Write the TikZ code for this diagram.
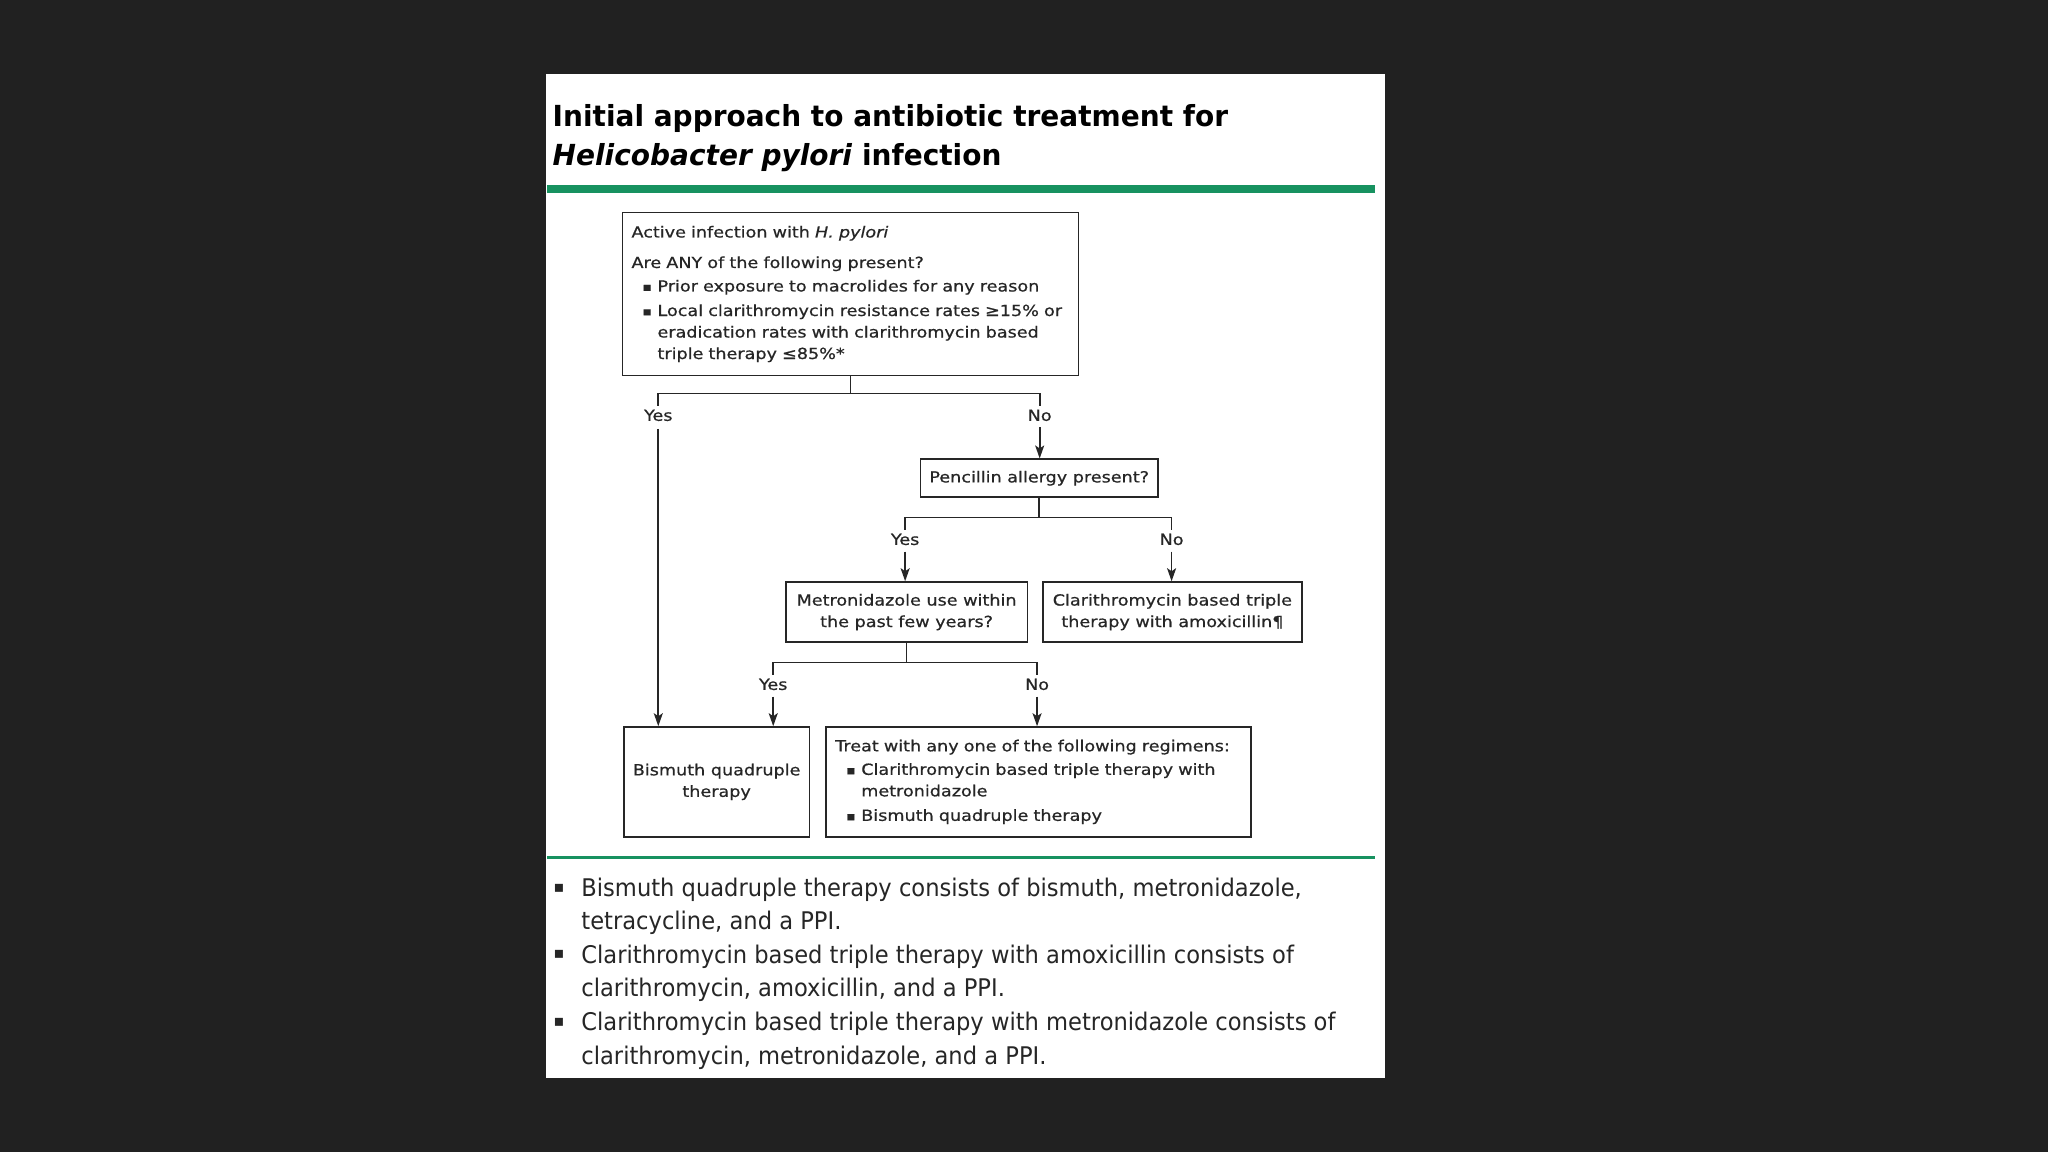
\documentclass[tikz,border=0pt]{standalone}
\usepackage{fontspec}
\setmainfont{DejaVu Sans}
\newfontfamily\narrowfont{DejaVu Sans}[FakeStretch=0.93]
\newfontfamily\titlefont{DejaVu Sans}[FakeStretch=0.965]
\newfontfamily\widefont{DejaVu Sans}[FakeStretch=1.15,FakeBold=0.6]
\usetikzlibrary{arrows.meta,calc}
\definecolor{bgdark}{RGB}{33,33,33}
\definecolor{hgreen}{RGB}{23,146,96}
\newcommand{\bulit}{\makebox[26pt][l]{\hspace*{11pt}\raisebox{0.5pt}{\fontsize{12}{12}\selectfont ▪}}}
\newcommand{\hangit}{\hspace*{26pt}}
\begin{document}
\begin{tikzpicture}[x=1.306pt,y=-1.306pt,
  frame/.style={draw=black!85, line width=1.6pt, inner ysep=4pt, inner xsep=9pt,
    font=\widefont\fontsize{15.3}{21.5}\selectfont, text=black!85},
  lbl/.style={font=\widefont\fontsize{15.3}{17}\selectfont, text=black!85, inner sep=1pt},
  conn/.style={draw=black!85, line width=1.7pt},
  arr/.style={conn, -{Stealth[length=13pt,width=9pt,inset=3pt]}},
  titletext/.style={font=\titlefont\bfseries\fontsize{29}{39}\selectfont, inner sep=0pt, text=black},
  notetext/.style={font=\narrowfont\fontsize{24.3}{33.6}\selectfont, inner sep=0pt, align=left, anchor=north west, text=black!85},
  nbul/.style={font=\fontsize{16}{16}\selectfont, inner sep=0pt, text=black!85}]
\fill[bgdark] (0,0) rectangle (1568,882);
\useasboundingbox (0,0) rectangle (1568,882);
\fill[white] (418,57) rectangle (1060,825);
% title
\node[titletext, anchor=base west] (t1) at (423,97) {Initial approach to antibiotic treatment for};
\node[titletext, anchor=base west] (t2) at (423,127) {\textit{Helicobacter pylori} infection};
\fill[hgreen] (419,142) rectangle (1053,148);
\fill[hgreen] (419,655) rectangle (1053,658);
% boxes
\node[frame, anchor=north west, minimum width={349*1.306pt}, minimum height={125*1.306pt},
  text width={349*1.306pt-18pt}, align=left] (b1) at (476,162)
  {Active infection with \textit{H. pylori}\\[9pt]
   Are ANY of the following present?\\[2pt]
   \bulit Prior exposure to macrolides for any reason\\[3pt]
   \bulit Local clarithromycin resistance rates ≥15\% or\\
   \hangit eradication rates with clarithromycin based\\
   \hangit triple therapy ≤85\%*};
\node[frame, anchor=north west, minimum width={182*1.306pt}, minimum height={29*1.306pt}, align=center] (pen) at (704,351)
  {Pencillin allergy present?};
\node[frame, anchor=north west, minimum width={185*1.306pt}, minimum height={46*1.306pt}, align=center] (met) at (601,445)
  {Metronidazole use within\\the past few years?};
\node[frame, anchor=north west, minimum width={198*1.306pt}, minimum height={46*1.306pt}, align=center] (cla) at (798,445)
  {Clarithromycin based triple\\therapy with amoxicillin¶};
\node[frame, anchor=north west, minimum width={142*1.306pt}, minimum height={84*1.306pt}, align=center] (bq) at (477,556)
  {Bismuth quadruple\\therapy};
\node[frame, anchor=north west, minimum width={325*1.306pt}, minimum height={84*1.306pt},
  text width={325*1.306pt-18pt}, align=left] (tr) at (632,556)
  {Treat with any one of the following regimens:\\[2pt]
   \bulit Clarithromycin based triple therapy with\\
   \hangit metronidazole\\[3pt]
   \bulit Bismuth quadruple therapy};
% labels
\node[lbl] (y1) at (504,318) {Yes};
\node[lbl] (n1) at (796,318) {No};
\node[lbl] (y2) at (693,413) {Yes};
\node[lbl] (n2) at (897,413) {No};
\node[lbl] (y3) at (592,524) {Yes};
\node[lbl] (n3) at (794,524) {No};
% connectors
\draw[conn] (b1.south) -- ++(0,13);
\draw[conn] ($(y1.north)+(0,-2)$) |- ($(b1.south)+(0,13)$) -| ($(n1.north)+(0,-2)$);
\draw[arr] ($(y1.south)+(0,5)$) -- (y1.south |- bq.north);
\draw[arr] ($(n1.south)+(0,4)$) -- (n1.south |- pen.north);
\draw[conn] (pen.south) -- ++(0,15);
\draw[conn] ($(y2.north)+(0,-2)$) |- ($(pen.south)+(0,15)$) -| ($(n2.north)+(0,-2)$);
\draw[arr] ($(y2.south)+(0,4)$) -- (y2.south |- met.north);
\draw[arr] ($(n2.south)+(0,4)$) -- (n2.south |- cla.north);
\draw[conn] (met.south) -- ++(0,15);
\draw[conn] ($(y3.north)+(0,-2)$) |- ($(met.south)+(0,15)$) -| ($(n3.north)+(0,-2)$);
\draw[arr] ($(y3.south)+(0,4)$) -- (y3.south |- bq.north);
\draw[arr] ($(n3.south)+(0,4)$) -- (n3.south |- tr.north);
% notes
\node[nbul] (nb1) at (428,680) {▪};
\node[nbul] (nb2) at (428,731) {▪};
\node[nbul] (nb3) at (428,783) {▪};
\node[notetext] (note1) at (445,672) {Bismuth quadruple therapy consists of bismuth, metronidazole,\\tetracycline, and a PPI.};
\node[notetext] (note2) at (445,723) {Clarithromycin based triple therapy with amoxicillin consists of\\clarithromycin, amoxicillin, and a PPI.};
\node[notetext] (note3) at (445,775) {Clarithromycin based triple therapy with metronidazole consists of\\clarithromycin, metronidazole, and a PPI.};
\end{tikzpicture}
\end{document}
